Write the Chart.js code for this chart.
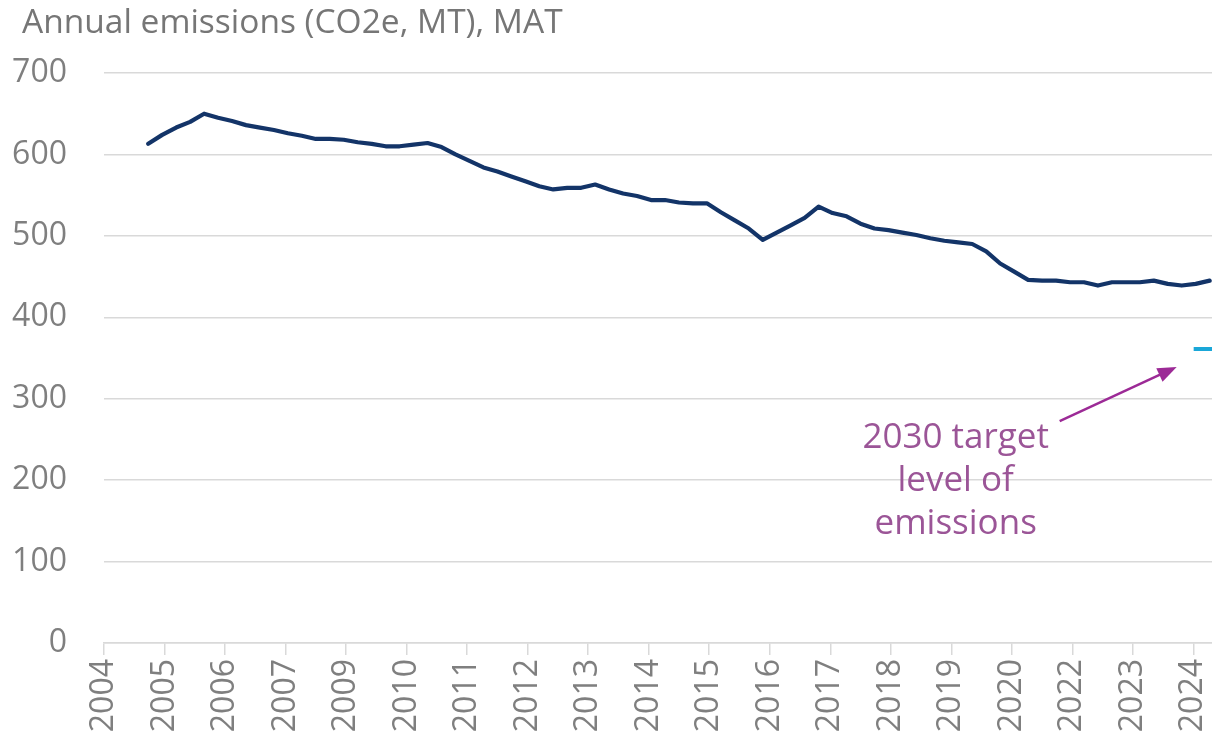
<!DOCTYPE html>
<html>
<head>
<meta charset="utf-8">
<script src="https://cdn.jsdelivr.net/npm/chart.js@4.4.1/dist/chart.umd.min.js"></script>
<style>
  html, body { margin: 0; padding: 0; background: #fff; overflow: hidden; }
  #wrap { width: 1212px; height: 740px; position: relative; }
  canvas { display: block; }
</style>
</head>
<body>
<div id="wrap"><canvas id="emissionsChart"></canvas></div>
<script>
// quarterly MAT emissions (Mt CO2e), first value = year to Jun 2005
const emissions = [
  613, 624, 633, 640, 650, 645, 641, 636, 633, 630, 626, 623, 619, 619, 618, 615,
  613, 610, 610, 612, 614, 609, 600, 592, 584, 579, 573, 567, 561, 557, 559, 559,
  563, 557, 552, 549, 544, 544, 541, 540, 540, 529, 519, 509, 495, 504, 513, 522,
  536, 528, 524, 515, 509, 507, 504, 501, 497, 494, 492, 490, 481, 466, 456, 446,
  445, 445, 443, 443, 439, 443, 443, 443, 445, 441, 439, 441, 445
];
// x axis counts months from Sep 2004, points sit mid-month
const firstMonth = 9;
const monthStep = 3;
const tickMonths = [0, 13, 26, 39, 52, 65, 78, 91, 104, 117, 130, 143, 156, 169, 182, 195, 208, 221, 234];
const tickLabels = ['2004', '2005', '2006', '2007', '2009', '2010', '2011', '2012', '2013', '2014',
  '2015', '2016', '2017', '2018', '2019', '2020', '2022', '2023', '2024'];
const targetMonth = 237;
const targetValue = 361;
const yMin = 0, yMax = 700, yStep = 100;

const FONT = "'Open Sans', 'Noto Sans', sans-serif";
const GREY = '#7f7f7f';
const GRID = '#d9d9d9';

const seriesPoints = emissions.map((v, i) => ({ x: firstMonth + monthStep * i + 0.5, y: v }));

// title and the target note are drawn straight on the canvas
const overlay = {
  id: 'overlay',
  afterDraw(chart) {
    const ctx = chart.ctx;
    const xs = chart.scales.x, ys = chart.scales.y;
    ctx.save();
    ctx.fillStyle = '#767676';
    ctx.font = `33.5px ${FONT}`;
    ctx.textBaseline = 'alphabetic';
    ctx.textAlign = 'left';
    ctx.fillText('Annual emissions (CO2e, MT), MAT', 22, 33);

    const tx = xs.getPixelForValue(targetMonth + 0.5);
    const ty = ys.getPixelForValue(targetValue);
    // arrow from the note to the target dash
    const ax = tx - 33, ay = ty + 18;
    const bx = tx - 150, by = ty + 72;
    const ang = Math.atan2(ay - by, ax - bx);
    ctx.strokeStyle = '#9c2a96';
    ctx.fillStyle = '#9c2a96';
    ctx.lineWidth = 2.5;
    ctx.beginPath();
    ctx.moveTo(bx, by);
    ctx.lineTo(ax - 10 * Math.cos(ang), ay - 10 * Math.sin(ang));
    ctx.stroke();
    ctx.beginPath();
    ctx.moveTo(ax, ay);
    ctx.lineTo(ax - 19 * Math.cos(ang) + 7.5 * Math.sin(ang), ay - 19 * Math.sin(ang) - 7.5 * Math.cos(ang));
    ctx.lineTo(ax - 19 * Math.cos(ang) - 7.5 * Math.sin(ang), ay - 19 * Math.sin(ang) + 7.5 * Math.cos(ang));
    ctx.closePath();
    ctx.fill();

    ctx.fillStyle = '#9b5597';
    ctx.font = `35px ${FONT}`;
    ctx.textAlign = 'center';
    const cx = tx - 254;
    ctx.fillText('2030 target', cx, ty + 99);
    ctx.fillText('level of', cx, ty + 142);
    ctx.fillText('emissions', cx, ty + 185);
    ctx.restore();
  }
};

new Chart(document.getElementById('emissionsChart'), {
  type: 'line',
  data: {
    datasets: [
      {
        label: 'Emissions',
        data: seriesPoints,
        borderColor: '#133468',
        borderWidth: 4.2,
        pointRadius: 0,
        tension: 0,
        borderJoinStyle: 'round',
        borderCapStyle: 'round'
      },
      {
        label: '2030 target',
        data: [{ x: targetMonth + 0.5, y: targetValue }],
        showLine: false,
        pointStyle: 'line',
        pointRadius: 16,
        pointBorderWidth: 4,
        pointBorderColor: '#1aa7d8',
        clip: false
      }
    ]
  },
  options: {
    responsive: true,
    maintainAspectRatio: false,
    animation: false,
    layout: { autoPadding: false, padding: { top: 73, right: 0, left: 0, bottom: 0 } },
    plugins: { legend: { display: false }, tooltip: { enabled: false } },
    scales: {
      x: {
        type: 'linear',
        min: 0,
        max: 238,
        afterBuildTicks(scale) { scale.ticks = tickMonths.map(v => ({ value: v })); },
        afterFit(scale) {
          scale.height = 97;
          scale.paddingLeft = 0;
          scale.paddingRight = 0;
        },
        ticks: {
          autoSkip: false,
          minRotation: 90,
          maxRotation: 90,
          padding: 4,
          color: GREY,
          font: { family: FONT, size: 32 },
          callback: (value, index) => tickLabels[index]
        },
        grid: { display: true, drawOnChartArea: false, drawTicks: true, tickLength: 12, color: GRID, lineWidth: 1.5 },
        border: { display: true, color: GRID, width: 1.5 }
      },
      y: {
        min: yMin,
        max: yMax,
        afterFit(scale) { scale.width = 104; },
        ticks: {
          stepSize: yStep,
          padding: 37,
          color: GREY,
          font: { family: FONT, size: 32 }
        },
        grid: { color: GRID, lineWidth: 1.5, drawTicks: false },
        border: { display: false }
      }
    }
  },
  plugins: [overlay]
});
</script>
</body>
</html>
